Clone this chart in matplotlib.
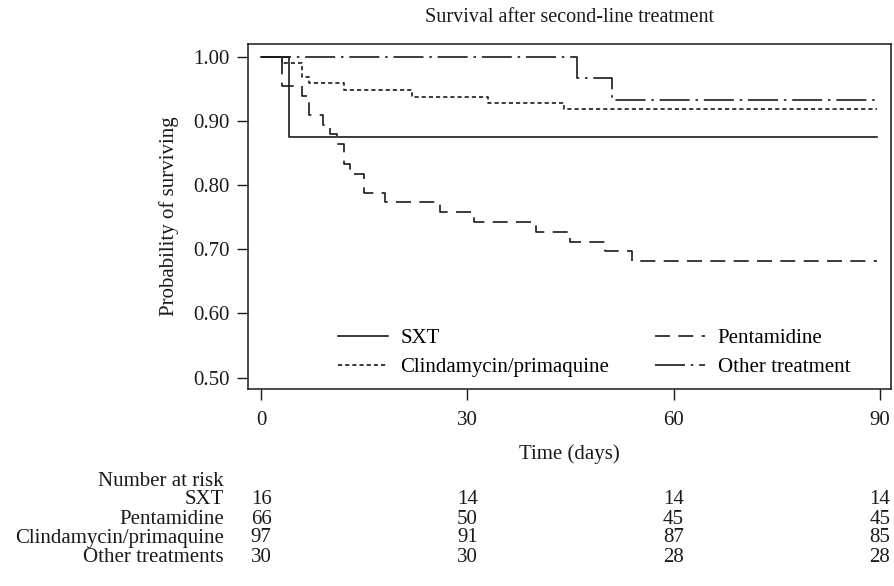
import matplotlib
matplotlib.use('Agg')
import matplotlib.pyplot as plt
import matplotlib.transforms as mtransforms

plt.rcParams['font.family'] = ['Liberation Serif', 'DejaVu Serif']
plt.rcParams['font.size'] = 15

# =====================================================================================================================#
# DATA (Kaplan-Meier steps)
# =====================================================================================================================#
sxt_t = [0, 4, 89.6]
sxt_s = [1.0, 0.875, 0.875]

pent_t = [0, 3, 6, 7, 9, 10, 11, 12, 13, 15, 18, 26, 31, 40, 45, 50, 54, 89.6]
pent_s = [1.0, 0.955, 0.939, 0.909, 0.894, 0.879, 0.864, 0.833, 0.818, 0.788, 0.773, 0.758, 0.742, 0.727,
          0.712, 0.697, 0.682, 0.682]

clin_t = [0, 3, 6, 7, 12, 22, 33, 44, 89.6]
clin_s = [1.0, 0.990, 0.969, 0.959, 0.948, 0.938, 0.928, 0.918, 0.918]

other_t = [0, 46, 51, 89.6]
other_s = [1.0, 0.967, 0.933, 0.933]

risk_times = [0, 30, 60, 90]
risk_labels = ['SXT', 'Pentamidine', 'Clindamycin/primaquine', 'Other treatments']
risk_sxt = [16, 14, 14, 14]
risk_pent = [66, 50, 45, 45]
risk_clin = [97, 91, 87, 85]
risk_other = [30, 30, 28, 28]

y_ticks = [0.5, 0.6, 0.7, 0.8, 0.9, 1.0]
x_ticks = [0, 30, 60, 90]

# =====================================================================================================================#
# PLOT
# =====================================================================================================================#
fig = plt.figure(figsize=(8.95, 5.86), dpi=100)
ax = fig.add_axes([0.2768, 0.3362, 0.9952 - 0.2768, 0.9249 - 0.3362])

lc = '#1a1a1a'
lw = 1.2
ax.step(sxt_t, sxt_s, where='post', color=lc, lw=lw, linestyle='-', label='SXT')
ax.step(pent_t, pent_s, where='post', color=lc, lw=lw, linestyle=(0, (9, 5)), label='Pentamidine')
ax.step(clin_t, clin_s, where='post', color=lc, lw=lw, linestyle=(0, (2.5, 1.8)), label='Clindamycin/primaquine')
ax.step(other_t, other_s, where='post', color=lc, lw=lw, linestyle=(0, (18, 3.5, 1.5, 3.5)),
        label='Other treatment')

ax.set_xlim(-1.95, 91.6)
ax.set_ylim(0.4824, 1.0198)
ax.set_xticks(x_ticks)
ax.set_yticks(y_ticks)
ax.set_yticklabels(['%.2f' % v for v in y_ticks])
ax.tick_params(direction='out', length=8, width=1, pad=5, color=lc, labelcolor=lc)
ax.tick_params(axis='x', pad=8)
for sp in ax.spines.values():
    sp.set_color(lc)
    sp.set_linewidth(1.1)

ax.set_xlabel('Time (days)', color=lc, labelpad=10)
ax.set_ylabel('Probability of surviving', color=lc, labelpad=10)
ax.set_title('Survival after second-line treatment', color=lc, pad=16, fontsize=14.5)

# legend, order: SXT / Pentamidine on first row
h, l = ax.get_legend_handles_labels()
order = [0, 2, 1, 3]
ax.legend([h[i] for i in order], [l[i] for i in order], ncol=2, frameon=False,
          loc='lower left', bbox_to_anchor=(0.1404, 0.035), borderaxespad=0, borderpad=0,
          handlelength=2.4, handletextpad=0.6, columnspacing=2.2, labelspacing=0.45)

# number at risk table
trans = mtransforms.blended_transform_factory(ax.transData, fig.transFigure)
ax.text(-5.4, 1 - 481 / 586, 'Number at risk', transform=trans, ha='right', va='center', color=lc,
        clip_on=False)
row_y = [500, 519, 538, 557]
for label, values, yy in zip(risk_labels, [risk_sxt, risk_pent, risk_clin, risk_other], row_y):
    ax.text(-5.4, 1 - yy / 586, label, transform=trans, ha='right', va='center', color=lc, clip_on=False)
    for t, v in zip(risk_times, values):
        ax.text(t, 1 - yy / 586, str(v), transform=trans, ha='center', va='center', color=lc, clip_on=False)

fig.savefig('out.png', dpi=100)
